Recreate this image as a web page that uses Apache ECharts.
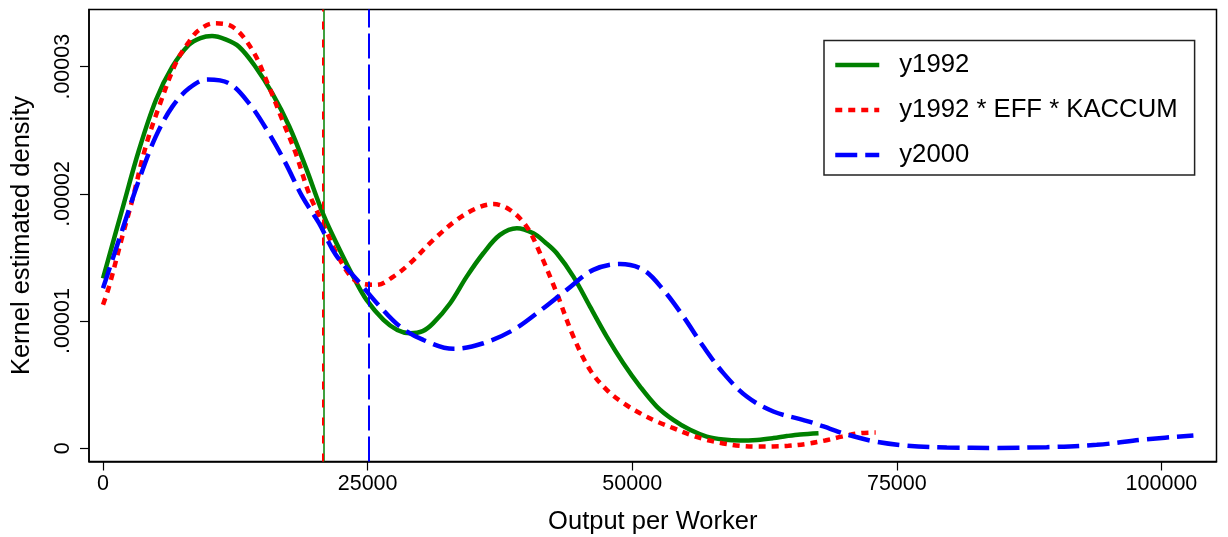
<!DOCTYPE html>
<html>
<head>
<meta charset="utf-8">
<script src="https://cdn.jsdelivr.net/npm/echarts@6/dist/echarts.min.js"></script>
<style>
html,body{margin:0;padding:0;background:#fff;}
#chart{width:1228px;height:537px;}
</style>
</head>
<body>
<div id="chart"></div>
<script>
// ---- data ----
const seriesNames = ['y1992', 'y1992 * EFF * KACCUM', 'y2000'];

const y1992X = [0,1800,3400,5000,6550,8100,9200,10300,11570,12850,14400,16000,17600,19150,20850,22300,23800,24900,26500,27800,29000,30200,31200,32800,34360,35930,37500,39100,40660,41760,42870,44440,46010,47590,49160,50740,52320,53880,55460,57040,58600,60190,61800,63330,64600,65860,67600];
const y1992Y = [1.336e-5,1.873e-5,2.345e-5,2.738e-5,3.0e-5,3.171e-5,3.225e-5,3.241e-5,3.215e-5,3.157e-5,3.0e-5,2.79e-5,2.53e-5,2.21e-5,1.83e-5,1.57e-5,1.324e-5,1.166e-5,1.009e-5,0.93e-5,0.904e-5,0.92e-5,0.983e-5,1.14e-5,1.349e-5,1.533e-5,1.677e-5,1.73e-5,1.69e-5,1.62e-5,1.533e-5,1.349e-5,1.113e-5,0.877e-5,0.668e-5,0.484e-5,0.327e-5,0.222e-5,0.144e-5,0.091e-5,0.068e-5,0.06e-5,0.065e-5,0.079e-5,0.095e-5,0.108e-5,0.118e-5];

const effX = [0,570,1820,2770,4030,5290,6870,8125,9070,10490,12220,14110,15680,16940,18210,19460,20820,22390,23970,25860,27430,29010,31210,33420,35310,36880,38460,40030,41290,42870,44440,46010,47590,49160,50740,52300,53880,55460,57040,58600,60190,61800,63300,64750,66490,68220,69800,71520,73000];
const effY = [1.127e-5,1.27e-5,1.664e-5,1.952e-5,2.371e-5,2.685e-5,3.027e-5,3.197e-5,3.289e-5,3.341e-5,3.315e-5,3.131e-5,2.843e-5,2.581e-5,2.319e-5,2.005e-5,1.76e-5,1.48e-5,1.31e-5,1.284e-5,1.349e-5,1.454e-5,1.638e-5,1.795e-5,1.887e-5,1.92e-5,1.873e-5,1.742e-5,1.533e-5,1.219e-5,0.877e-5,0.616e-5,0.458e-5,0.354e-5,0.275e-5,0.21e-5,0.157e-5,0.105e-5,0.065e-5,0.037e-5,0.018e-5,0.012e-5,0.013e-5,0.018e-5,0.034e-5,0.06e-5,0.091e-5,0.118e-5,0.123e-5];

const y2000X = [0,1820,3400,4980,6550,8125,9855,11900,13800,15680,17260,18830,20410,22000,24280,26170,28060,30260,33100,35930,38770,41290,43810,46320,48850,51050,52940,54830,56720,58610,60820,63330,65860,67110,68700,70270,72780,75940,79720,84440,89160,93890,98610,103020];
const y2000Y = [1.258e-5,1.716e-5,2.11e-5,2.45e-5,2.686e-5,2.83e-5,2.90e-5,2.87e-5,2.712e-5,2.476e-5,2.24e-5,1.978e-5,1.769e-5,1.52e-5,1.297e-5,1.113e-5,0.956e-5,0.851e-5,0.781e-5,0.825e-5,0.93e-5,1.08e-5,1.245e-5,1.402e-5,1.449e-5,1.402e-5,1.245e-5,1.035e-5,0.799e-5,0.59e-5,0.406e-5,0.288e-5,0.228e-5,0.198e-5,0.152e-5,0.108e-5,0.055e-5,0.02e-5,0.005e-5,0.002e-5,0.008e-5,0.026e-5,0.07e-5,0.099e-5];

// vertical reference lines (means)
const meanLines = [20850, 20760, 25130];

const xTickValues = [0, 25000, 50000, 75000, 100000];
const xTickLabels = ['0', '25000', '50000', '75000', '100000'];
const yTickValues = [0, 1e-5, 2e-5, 3e-5];
const yTickLabels = ['0', '.00001', '.00002', '.00003'];

const xTitle = 'Output per Worker';
const yTitle = 'Kernel estimated density';

// ---- chart ----
const pairs = (xs, ys) => xs.map((x, i) => [x, ys[i]]);
const FONT = '"Liberation Sans", Arial, sans-serif';
const colors = ['#008000', '#ff0000', '#0000ff'];
const dashes = ['solid', [7, 6], [22, 8]];
const mlDashes = ['solid', [8, 10], [25, 6]];
const datasets = [pairs(y1992X, y1992Y), pairs(effX, effY), pairs(y2000X, y2000Y)];

function labelFor(values, labels) {
  return function (v) {
    for (let i = 0; i < values.length; i++) {
      if (Math.abs(v - values[i]) <= Math.abs(values[i]) * 1e-6 + 1e-12) return labels[i];
    }
    return '';
  };
}

const chart = echarts.init(document.getElementById('chart'), null, {renderer: 'canvas'});

chart.setOption({
  animation: false,
  backgroundColor: '#fff',
  textStyle: {fontFamily: FONT, color: '#000'},
  grid: {left: 89, top: 9.5, right: 11.5, bottom: 75.5, show: true, borderColor: '#000', borderWidth: 1.5,
    containLabel: false, outerBoundsMode: 'none'},
  legend: {
    orient: 'vertical',
    left: 824, top: 40.5,
    padding: [9.5, 17, 5, 9],
    itemWidth: 44, itemHeight: 14, itemGap: 15,
    borderColor: '#222', borderWidth: 1.5,
    backgroundColor: '#fff',
    itemStyle: {opacity: 0},
    lineStyle: {width: 4.5},
    textStyle: {fontFamily: FONT, fontSize: 25.7, lineHeight: 30, color: '#000', padding: [0, 0, 0, 15]},
    data: seriesNames
  },
  xAxis: {
    type: 'value',
    min: -1323, max: 105200,
    name: xTitle, nameLocation: 'middle', nameGap: 47,
    nameTextStyle: {fontFamily: FONT, fontSize: 25.5, color: '#000'},
    axisLine: {show: true, onZero: false, lineStyle: {color: '#000', width: 1.5}},
    axisTick: {show: true, length: 9, lineStyle: {color: '#000', width: 1.2}, customValues: xTickValues},
    axisLabel: {fontFamily: FONT, fontSize: 21.5, color: '#000', margin: 12, customValues: xTickValues,
      formatter: labelFor(xTickValues, xTickLabels)},
    splitLine: {show: false}
  },
  yAxis: {
    type: 'value',
    min: -1.05e-6, max: 3.45e-5,
    name: yTitle, nameLocation: 'middle', nameGap: 54, nameRotate: 90,
    nameTextStyle: {fontFamily: FONT, fontSize: 25.5, color: '#000'},
    axisLine: {show: true, onZero: false, lineStyle: {color: '#000', width: 1.5}},
    axisTick: {show: true, length: 9, lineStyle: {color: '#000', width: 1.2}, customValues: yTickValues},
    axisLabel: {
      fontFamily: FONT, fontSize: 21.5, color: '#000', margin: 15, rotate: 90,
      customValues: yTickValues,
      formatter: labelFor(yTickValues, yTickLabels)
    },
    splitLine: {show: false}
  },
  series: seriesNames.map((name, i) => ({
    name: name,
    type: 'line',
    data: datasets[i],
    smooth: 0.35,
    symbol: 'none',
    showSymbol: false,
    z: 3 + i,
    lineStyle: {color: colors[i], width: 4.5, type: dashes[i], cap: 'butt'},
    itemStyle: {color: colors[i]},
    markLine: {
      silent: true,
      symbol: ['none', 'none'],
      label: {show: false},
      lineStyle: {color: colors[i], width: i === 0 ? 1.5 : 2, type: mlDashes[i]},
      data: [{xAxis: meanLines[i]}]
    }
  }))
});
</script>
</body>
</html>
